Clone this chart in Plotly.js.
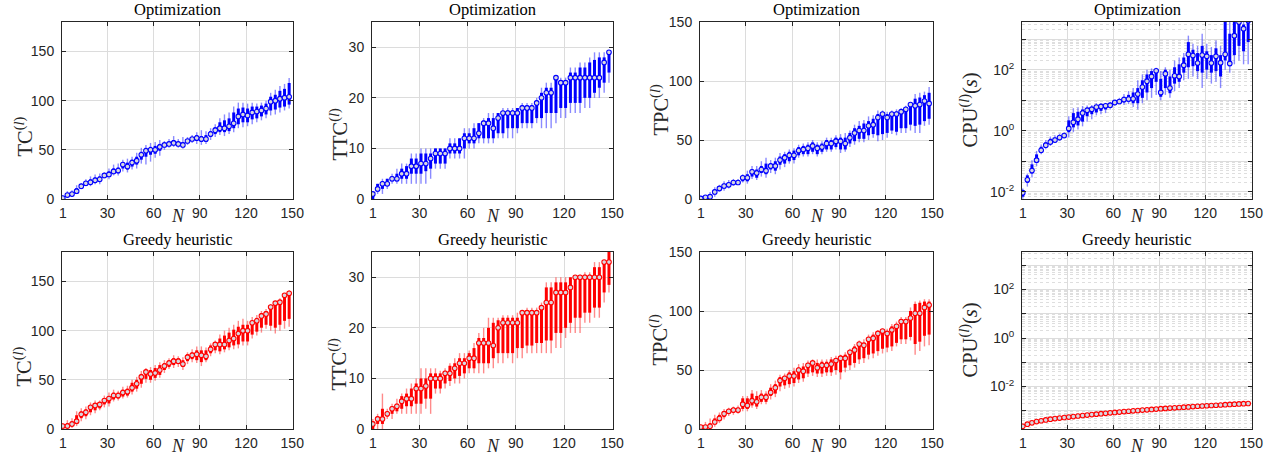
<!DOCTYPE html>
<html><head><meta charset="utf-8">
<script src="https://cdn.plot.ly/plotly-3.0.1.min.js"></script>
<style>html,body{margin:0;padding:0;background:#fff}#plot{width:1276px;height:460px}</style>
</head><body><div id="plot"></div>
<script>
// Problem sizes N
const N = [1,4,7,10,13,16,19,22,25,28,31,34,37,40,43,46,49,52,55,58,61,64,67,70,73,76,79,82,85,88,91,94,97,100,103,106,109,112,115,118,121,124,127,130,133,136,139,142,145,148];
const xTicks = [1,30,60,90,120,150];

// ---- Optimization: TC ----
const tcOptMed = [1,4,5,8,13,16,17,19,20,24,25,28,29,35,33,37,39,45,49,50,50,53,55,56,57,56,55,59,61,62,61,61,66,70,72,72,74,77,84,86,85,88,89,90,92,99,100,102,103,104];
const tcOptLo  = [0,2,2,5,10,13,13,15,15,21,20,24,24,28,27,30,31,36,35,38,42,44,50,52,53,52,51,55,57,56,55,56,60,63,65,64,66,68,72,73,74,76,78,80,82,85,86,88,90,92];
const tcOptQ1  = [0,3,3,6,11,14,15,17,18,22,23,26,26,31,30,33,35,40,43,45,46,49,53,54,55,54,53,57,59,59,58,58,63,66,68,68,69,72,76,78,78,81,82,84,86,90,91,93,94,96];
const tcOptQ3  = [2,6,7,11,14,18,20,22,23,25,28,31,32,37,37,40,43,48,52,53,54,56,57,58,60,58,58,61,63,65,64,65,69,73,78,80,82,88,92,93,92,94,94,95,97,104,106,110,112,118];
const tcOptHi  = [3,8,9,14,16,20,23,25,26,27,31,35,36,40,41,43,47,52,55,57,58,60,59,61,64,61,63,63,65,68,70,69,72,76,82,86,88,94,98,98,97,98,97,98,100,108,111,115,117,123];

// ---- Optimization: TTC ----
const ttcOptMed = [1,2,3,3,4,4,5,5,6.5,6.5,7,7,8,9,9,9,10,10,10,12,12,12,13,15,15,14,16,17,17,17,17,18,18,18,19,20,21,21,24,23,23,24,24,24,24,24,24,24,27,29];
const ttcOptLo  = [0,1,1,2,3,3,3,3,3,3,3,3,4,6,6,6,8,8,8,8,10,10,11,11,11,11,12,12,12,12,13,14,14,14,15,14,14,14,15,16,16,17,17,17,18,18,20,20,21,23];
const ttcOptQ1  = [0,1.5,2,3,3.5,3.5,4,4,5,5,5,5.5,6,7,7,7,9,9,9,10,11,11,12,12,12,12,13,13,14,14,14,15,15,15,16,16,17,17,17,18,18,19,19,19,20,20,21,22,23,25];
const ttcOptQ3  = [1,3,3.5,4,4.5,5,6,6.5,8,8,9,9,9,10,10,10,11,11,12,13,13,14,15,15.5,16,16,17,17,17.5,17.5,18,18.5,18.5,18.5,19.5,21,22,22,24,23.5,23.5,25,25,26,26,27,27.5,28,28,29];
const ttcOptHi  = [1.5,3,4,4,5,6,7,7,9,9,10,10,10,10,10,10,12,12,12,14,14,15,15,16,17,17,17,18,18,18,18,19,19,19,20,22,23,23,24,24,24,26,26,27,27,28,29,29,29,29];

// ---- Optimization: TPC ----
const tpcOptMed = [0.5,1.5,2,6,9,11,12,14,14,18,18,23,22,25,24,28,28,33,35,37,37,41,42,43,45,43,44,47,47,49,49,47,52,56,58,58,62,63,69,72,69,72,72,74,76,80,79,80,83,81];
const tpcOptLo  = [0,0,0,2,6,7,9,11,12,14,13,17,16,19,18,22,21,25,27,30,30,35,36,36,38,36,38,40,40,42,39,40,44,46,48,48,50,52,49,50,52,55,54,56,56,58,56,56,62,63];
const tpcOptQ1  = [0,1,1,4,7,9,10,12,13,15,15,19,18,22,21,25,24,29,30,32,33,37,38,38,40,38,40,42,42,44,42,42,47,49,51,51,54,55,54,55,56,58,57,60,60,63,62,63,66,68];
const tpcOptQ3  = [1,2,4,8,11,13,14,16,16,20,21,25,25,28,30,30,32,36,38,40,41,44,45,46,48,46,47,50,50,52,52,52,56,60,62,64,66,68,72,73,72,73,74,75,77,81,85,86,88,90];
const tpcOptHi  = [2,3,6,10,12,15,16,17,17,21,24,28,28,32,35,33,35,39,40,42,43,46,47,48,50,48,49,52,52,54,55,56,58,63,66,67,70,71,75,75,74,75,76,77,79,82,89,90,91,95];

// ---- Optimization: CPU (s) ----
const cpuOptMed = [0.0095,0.025,0.05,0.11,0.23,0.34,0.43,0.5,0.6,0.7,1.2,1.9,2.4,3.8,4.7,5.1,6,6.3,6.6,6.9,8.5,9.1,10.5,11,11.2,16,27,42,60,92,18,74,25,63,60,140,320,290,165,300,275,165,275,170,320,160,1300,3600,2200,4000];
const cpuOptLo  = [0.006,0.015,0.03,0.07,0.17,0.25,0.32,0.4,0.47,0.58,0.6,0.9,1.1,1.4,2,2.4,3.2,3.5,3.8,5,6.5,7.5,7,7.5,6,5,8,10,12,15,10,15,12,20,25,45,50,60,50,25,50,35,40,25,100,80,150,200,150,150];
const cpuOptQ1  = [0.007,0.02,0.04,0.09,0.2,0.3,0.38,0.45,0.53,0.63,0.9,1.3,1.5,2,3,3.5,4,4.5,5,5.8,7.5,8,8.5,9,8,8,12,18,25,40,13,25,17,35,40,80,120,130,90,80,100,80,90,60,200,130,300,600,400,800];
const cpuOptQ3  = [0.011,0.035,0.08,0.17,0.3,0.42,0.55,0.6,0.7,0.8,2.2,3.8,4.2,5,5.8,6,7,7.2,7.5,8,9.5,10.5,13,15,18,25,45,70,90,100,50,100,60,120,150,250,800,450,350,600,400,300,500,300,4000,1500,4000,4000,3000,4000];
const cpuOptHi  = [0.013,0.04,0.11,0.22,0.36,0.5,0.65,0.72,0.8,0.88,3,5.5,5.8,6.5,6.8,7,8,8,8.2,9,10,12,16,20,25,45,70,100,110,115,90,120,100,200,250,350,1300,700,600,1500,700,550,900,600,4000,4000,4000,4000,4000,4000];

// ---- Greedy heuristic: TC ----
const tcGrMed = [3,3,5,8,15,17,22,24,25,29,31,34,34,37,38,42,46,53,58,56,57,60,64,67,69,69,66,73,75,76,75,74,81,86,86,86,90,92,97,100,100,108,110,115,117,124,128,129,136,138];
const tcGrLo  = [0,0,1,3,8,10,14,16,19,22,23,28,29,31,32,35,38,42,47,47,49,52,57,61,62,63,60,66,68,67,64,68,74,77,76,78,80,81,82,85,85,92,95,98,102,100,97,100,102,104];
const tcGrQ1  = [1,1,3,5,11,13,17,19,21,25,26,30,31,33,34,38,41,46,51,50,52,55,60,63,65,66,63,69,71,70,68,70,77,80,79,81,83,85,86,89,89,96,99,103,106,105,103,106,110,112];
const tcGrQ3  = [4,6,8,14,18,20,24,26,27,31,33,37,37,40,41,47,50,56,60,60,62,65,67,70,72,72,70,76,78,80,80,80,85,88,92,95,98,101,104,106,106,110,113,118,120,125,129,131,137,139];
const tcGrHi  = [5,9,11,18,21,23,27,29,29,34,37,40,39,43,44,50,53,59,62,63,65,68,70,72,75,74,73,78,81,84,84,83,87,90,96,100,103,106,110,112,110,114,116,120,122,127,130,133,138,141];

// ---- Greedy heuristic: TTC ----
const ttcGrMed = [1,2,2,3,4,4.5,5.5,6,6,8,8,8.5,10,10,10,11,11,12,13,13,14,14,17,17,17,16.5,20,21,21,21,21,23,23,23,23,24,25,25,27,27,27,28,30,30,30,30,30,30,33,33];
const ttcGrLo  = [0,0,0,2,2,3,3,3,3,3,3,4,3,7,7,8,8.5,9,9,10,11,11,11,11,12,12,13,13,14,13,14,14,15,15,15,15,15,15,16,16,18,19,19,19,21,21,22,22,25,27];
const ttcGrQ1  = [0,1,1,2.5,3,3.5,4,4.5,4.5,5,5,6,6,8,8,9,9.5,10,10.5,11,12,12,13,13,13,14,15,15,15,15,16,16,16.5,16.5,17,17,17.5,17.5,19,19,20,21,22,22,23,23,24,24,27,28.5];
const ttcGrQ3  = [1.5,2.5,4,3.5,4.5,5,6.5,7,8,9,10,10,11,11,11,11.5,12.5,13,14,14,15,16,18,18,20,21,21.5,22,22,22,22,23,23.5,23.5,23.5,24.5,28,28,29,29,29,30,30,30,30.5,30.5,32,32,33,35];
const ttcGrHi  = [2,3,7,4,5,6,7,8,9,10,12,12,12,12,11.5,12,13,14,15,15,15.5,17,19,20,22,22,22,22.5,22.5,22.5,23,23.5,24,24,24,25,29,29,30,30,30,30,30,30.5,31,31,33,33,33,36];

// ---- Greedy heuristic: TPC ----
const tpcGrMed = [1.7,1.7,2.3,6,9,13,15,16,16,21,20,24,23,27,27,31,35,41,43,45,45,50,49,54,56,52,54,54,55,58,60,60,65,67,72,71,76,77,81,83,81,84,87,91,91,94,98,98,103,105];
const tpcGrLo  = [0,0,0,2,5,8,11,12,13,15,15,18,17,21,21,25,27,32,34,35,36,39,40,44,45,44,44,45,45,46,42,48,50,52,55,56,59,60,62,64,65,66,70,72,72,75,63,66,70,71];
const tpcGrQ1  = [0.5,0.5,1,4,7,10,13,14,14,17,17,20,19,23,23,28,30,36,37,38,39,42,43,47,48,47,47,48,48,50,48,52,54,56,59,60,63,64,66,68,69,70,73,76,76,78,72,74,79,80];
const tpcGrQ3  = [2,3,5,9,12,15,17,18,18,26,26,30,28,30,30,35,38,44,45,48,49,52,53,56,57,56,57,57,59,60,62,63,66,70,73,73,78,80,82,84,83,87,89,93,93,100,106,107,108,108];
const tpcGrHi  = [3,6,9,12,14,17,18,19,20,28,28,33,32,33,32,38,41,46,47,50,52,55,56,58,59,59,59,59,61,62,63,65,68,72,75,76,80,82,84,85,85,89,91,95,95,103,108,109,110,110];

// ---- Greedy heuristic: CPU (s) ----
const cpuGrMed = [0.00023,0.00028,0.00032,0.00036,0.00039,0.00042,0.00045,0.00048,0.0005,0.00053,0.00055,0.00058,0.00061,0.00064,0.00067,0.0007,0.00073,0.00076,0.00079,0.00083,0.00086,0.00089,0.00093,0.00096,0.001,0.00103,0.00107,0.0011,0.00114,0.00118,0.00122,0.00126,0.0013,0.00133,0.00137,0.00141,0.00145,0.0015,0.00154,0.00158,0.00162,0.00166,0.0017,0.00174,0.00179,0.00183,0.00188,0.00192,0.00197,0.002];

const BLUE = '#0000ff', BLUE_L = 'rgba(60,60,255,0.6)';
const RED = '#ff0000', RED_L = 'rgba(255,60,60,0.6)';
const AX = '#262626', GRID = '#dcdcdc';

const traces = [];
function boxes(k, med, lo, q1, q3, hi, col, colL) {
  const xa = 'x' + (k === 1 ? '' : k), ya = 'y' + (k === 1 ? '' : k);
  traces.push({type:'scatter', mode:'none', x:N, y:med, xaxis:xa, yaxis:ya, hoverinfo:'skip',
    error_y:{type:'data', symmetric:false, array:hi.map((v,i)=>v-med[i]), arrayminus:med.map((v,i)=>v-lo[i]),
      color:colL, thickness:1.4, width:0}});
  traces.push({type:'scatter', mode:'none', x:N, y:med, xaxis:xa, yaxis:ya, hoverinfo:'skip',
    error_y:{type:'data', symmetric:false, array:q3.map((v,i)=>v-med[i]), arrayminus:med.map((v,i)=>v-q1[i]),
      color:col, thickness:3, width:0}});
  medians(k, med, col);
}
function medians(k, med, col) {
  const xa = 'x' + (k === 1 ? '' : k), ya = 'y' + (k === 1 ? '' : k);
  traces.push({type:'scatter', mode:'markers', x:N, y:med, xaxis:xa, yaxis:ya,
    marker:{symbol:'circle', size:4.6, color:'#d8d8e0', line:{color:col, width:1.1}}});
}
boxes(1, tcOptMed, tcOptLo, tcOptQ1, tcOptQ3, tcOptHi, BLUE, BLUE_L);
boxes(2, ttcOptMed, ttcOptLo, ttcOptQ1, ttcOptQ3, ttcOptHi, BLUE, BLUE_L);
boxes(3, tpcOptMed, tpcOptLo, tpcOptQ1, tpcOptQ3, tpcOptHi, BLUE, BLUE_L);
boxes(4, cpuOptMed, cpuOptLo, cpuOptQ1, cpuOptQ3, cpuOptHi, BLUE, BLUE_L);
boxes(5, tcGrMed, tcGrLo, tcGrQ1, tcGrQ3, tcGrHi, RED, RED_L);
boxes(6, ttcGrMed, ttcGrLo, ttcGrQ1, ttcGrQ3, ttcGrHi, RED, RED_L);
boxes(7, tpcGrMed, tpcGrLo, tpcGrQ1, tpcGrQ3, tpcGrHi, RED, RED_L);
medians(8, cpuGrMed, RED);

const W = 1276, H = 460;
const colPx = [[62,293],[372,613],[700,933],[1022,1252]];
const rowPx = [[22,199],[252,429]];
const yTitles = ['TC<sup>(<i>l</i>)</sup>','TTC<sup>(<i>l</i>)</sup>','TPC<sup>(<i>l</i>)</sup>','CPU<sup>(<i>l</i>)</sup>(<i>s</i>)'];
const yTitleDx = [-39, -34, -41, -53];
const yTitleDy = [-26, -24, 0, 0];
const heads = ['Optimization','Greedy heuristic'];
const yRanges = [[0,180],[0,35],[0,150],null];
const yTickVals = [[0,50,100,150],[0,10,20,30],[0,50,100,150],null];
const logVals = [1e-4,1e-3,1e-2,1e-1,1,10,100,1000];
const logText = ['','','10<sup>-2</sup>','','10<sup>0</sup>','','10<sup>2</sup>',''];
const logRanges = [[-2.23,3.56],[-3.75,3.55]];

const layout = {width:W, height:H, margin:{l:0,r:0,t:0,b:0}, showlegend:false,
  paper_bgcolor:'#fff', plot_bgcolor:'#fff', annotations:[]};
const tickFont = {family:'Liberation Sans, Arial, sans-serif', size:14, color:AX};
const serif = 'Liberation Serif, Times New Roman, serif';
for (let r=0;r<2;r++) for (let c=0;c<4;c++) {
  const k = r*4+c+1, s = k===1?'':k;
  const xd = [colPx[c][0]/W, colPx[c][1]/W];
  const yd = [1-rowPx[r][1]/H, 1-rowPx[r][0]/H];
  layout['xaxis'+s] = {domain:xd, anchor:'y'+s, range:[0.5,150.5], tickvals:xTicks, ticks:'inside', ticklen:4,
    tickcolor:AX, showline:true, linecolor:AX, linewidth:1, mirror:'ticks', showgrid:true, gridcolor:GRID,
    zeroline:false, tickfont:tickFont, ticklabelstandoff:1, automargin:false};
  const ya = {domain:yd, anchor:'x'+s, ticks:'inside', ticklen:4, tickcolor:AX, showline:true, linecolor:AX,
    linewidth:1, mirror:'ticks', showgrid:true, gridcolor:GRID, zeroline:false, tickfont:tickFont,
    ticklabelstandoff:4, automargin:false};
  if (c<3) { ya.range = yRanges[c]; ya.tickvals = yTickVals[c]; }
  else {
    ya.type='log'; ya.range=logRanges[r]; ya.tickvals=logVals; ya.ticktext=logText;
    ya.minor={dtick:'D1', showgrid:true, gridcolor:'#dedede', griddash:'dot', gridwidth:1, ticks:''};
  }
  layout['yaxis'+s] = ya;
  layout.annotations.push({xref:'paper', yref:'paper', x:xd[0], y:(yd[0]+yd[1])/2, xanchor:'center', yanchor:'middle',
    xshift:yTitleDx[c], yshift:yTitleDy[c], textangle:-90, showarrow:false, text:yTitles[c],
    font:{family:serif, size:20.5, color:AX}});
  layout.annotations.push({xref:'paper', yref:'paper', x:(xd[0]+xd[1])/2, y:yd[1], xanchor:'center', yanchor:'bottom', yshift:1,
    showarrow:false, text:heads[r], font:{family:serif, size:16.5, color:'#000'}});
  layout.annotations.push({xref:'paper', yref:'paper', x:(xd[0]+xd[1])/2, y:yd[0], xanchor:'center', yanchor:'middle', yshift:-17,
    showarrow:false, text:'<i>N</i>', font:{family:serif, size:18, color:AX}});
}
Plotly.newPlot('plot', traces, layout, {staticPlot:true});
</script></body></html>
